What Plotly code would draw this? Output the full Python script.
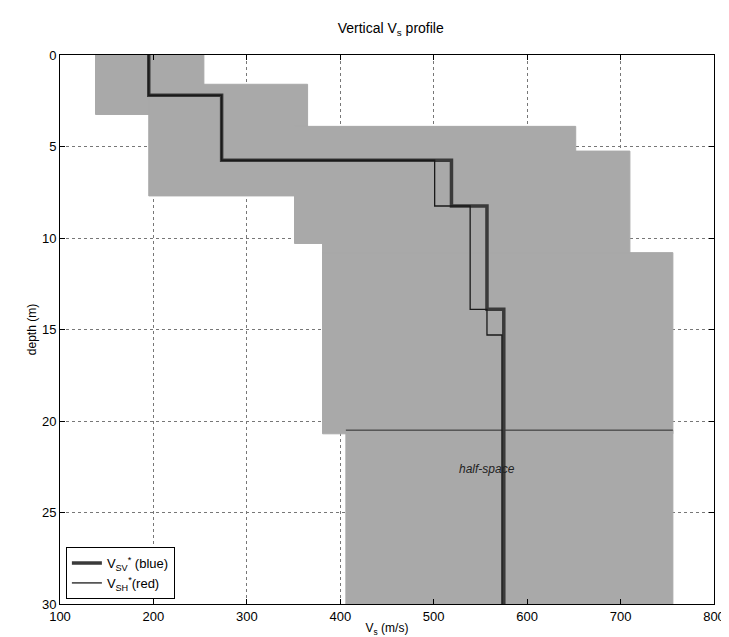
import plotly.graph_objects as go

# Uncertainty boxes (Vs range and depth range for each layer)
box_names = ["layer 1", "layer 2", "layer 3", "layer 4", "layer 5", "half-space"]
box_vmin = [138, 195, 351, 381, 381, 406]
box_vmax = [254, 365, 652, 710, 756, 756]
box_ztop = [0.0, 1.6, 3.9, 5.25, 10.8, 20.5]
box_zbot = [3.25, 7.7, 10.3, 15.0, 20.7, 30.0]

# Best-fit profiles (step functions)
sv_bounds = [0.0, 2.2, 5.75, 8.25, 13.9, 30.0]
sv_vs = [195, 273, 519, 557, 575]
sh_bounds = [0.0, 2.2, 5.75, 8.25, 13.9, 15.3, 30.0]
sh_vs = [195, 273, 501, 539, 557, 573]

x_ticks = [100, 200, 300, 400, 500, 600, 700, 800]
y_ticks = [0, 5, 10, 15, 20, 25, 30]

fig = go.Figure()

shade = "#a9a9a9"
for i, name in enumerate(box_names):
    xs = [box_vmin[i], box_vmax[i], box_vmax[i], box_vmin[i], box_vmin[i]]
    ys = [box_ztop[i], box_ztop[i], box_zbot[i], box_zbot[i], box_ztop[i]]
    fig.add_trace(go.Scatter(
        x=xs, y=ys, mode="lines", fill="toself", fillcolor=shade,
        line=dict(color=shade, width=1),
        showlegend=False, hoverinfo="skip"))

# top border of the half-space box
hs = box_names.index("half-space")
fig.add_trace(go.Scatter(x=[box_vmin[hs], box_vmax[hs]], y=[box_ztop[hs], box_ztop[hs]],
                         mode="lines", line=dict(color="#2a2a2a", width=1),
                         showlegend=False, hoverinfo="skip"))


def steps(bounds, vs):
    xs, ys = [], []
    for k, v in enumerate(vs):
        xs += [v, v]
        ys += [bounds[k], bounds[k + 1]]
    return xs, ys


sx, sy = steps(sv_bounds, sv_vs)
hx, hy = steps(sh_bounds, sh_vs)

fig.add_trace(go.Scatter(x=sx, y=sy, mode="lines",
                         line=dict(color="#3a3a3a", width=3.5),
                         name="V<sub>SV</sub><sup>*</sup> (blue)"))
fig.add_trace(go.Scatter(x=hx, y=hy, mode="lines",
                         line=dict(color="#1a1a1a", width=1.3),
                         name="V<sub>SH</sub><sup>*</sup>(red)"))

fig.add_annotation(x=557, y=22.6, text="<i>half-space</i>", showarrow=False,
                   font=dict(size=12, color="#222222"))

axis_common = dict(
    showline=True, linecolor="black", linewidth=1, mirror="ticks",
    ticks="inside", ticklen=5, tickcolor="black",
    showgrid=True, gridcolor="#777777", gridwidth=1, griddash="dot",
    zeroline=False, tickfont=dict(size=13, color="black"),
)

fig.update_xaxes(range=[100, 800], tickvals=x_ticks,
                 title=dict(text="V<sub>s</sub> (m/s)", font=dict(size=12, color="black"), standoff=1),
                 **axis_common)
fig.update_yaxes(range=[30, 0], tickvals=y_ticks,
                 title=dict(text="depth (m)", font=dict(size=12, color="black"), standoff=2),
                 **axis_common)

fig.update_layout(
    width=729, height=637,
    margin=dict(l=52, r=14, t=47, b=39),
    paper_bgcolor="white", plot_bgcolor="white",
    font=dict(family="Liberation Sans, Arial, sans-serif", color="black"),
    title=dict(text="Vertical V<sub>s</sub> profile", x=0.525, xanchor="center",
               y=0.968, yanchor="middle", font=dict(size=14, color="black")),
    legend=dict(x=0.009, y=0.009, xanchor="left", yanchor="bottom",
                bgcolor="white", bordercolor="black", borderwidth=1,
                font=dict(size=13, color="black"), tracegroupgap=2),
)

fig.write_html("out.html")
